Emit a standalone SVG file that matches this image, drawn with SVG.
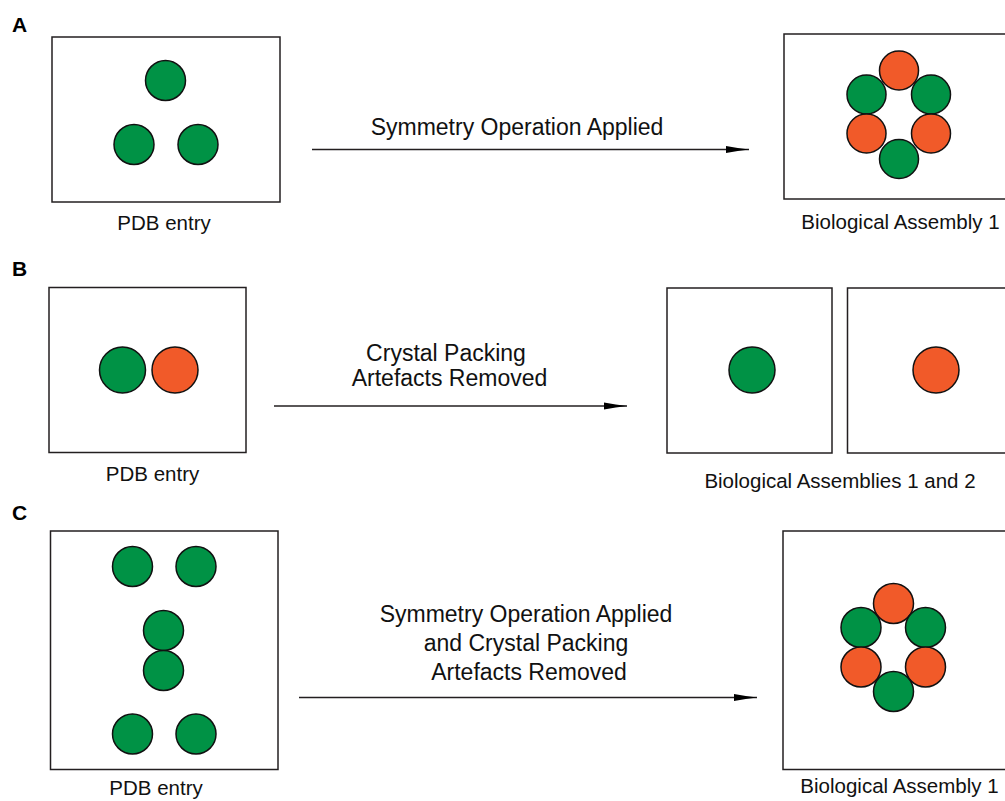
<svg xmlns="http://www.w3.org/2000/svg" width="1005" height="801" viewBox="0 0 1005 801">
<defs>
<style>
.box{fill:#fff;stroke:#231f20;stroke-width:1.5}
.g{fill:#009245;stroke:#111;stroke-width:1.5}
.o{fill:#f15a29;stroke:#111;stroke-width:1.5}
.lbl{font-family:"Liberation Sans",Arial,sans-serif;font-size:20.5px;fill:#111;text-anchor:middle}
.arr{font-family:"Liberation Sans",Arial,sans-serif;font-size:23px;fill:#111;text-anchor:middle}
.pan{font-family:"Liberation Sans",Arial,sans-serif;font-size:21px;font-weight:bold;fill:#000}
.line{stroke:#231f20;stroke-width:1.3;fill:none;marker-end:url(#ah)}
</style>
<marker id="ah" markerUnits="userSpaceOnUse" markerWidth="24" markerHeight="10" refX="23" refY="5" orient="auto">
<path d="M0,1.5 Q12,3.6 23,5 Q12,6.4 0,8.5 z" fill="#000"/>
</marker>
</defs>
<rect width="1005" height="801" fill="#fff"/>
<text class="pan" x="12" y="32">A</text>
<text class="pan" x="12" y="276">B</text>
<text class="pan" x="12" y="520">C</text>

<g id="a-pdb">
<rect class="box" x="52" y="37" width="228" height="165"/>
<circle class="g" cx="165.5" cy="80.5" r="20"/>
<circle class="g" cx="134" cy="144.5" r="20"/>
<circle class="g" cx="198" cy="144.5" r="20"/>
<text class="lbl" x="164" y="230">PDB entry</text>
</g>
<g id="a-bio">
<rect class="box" x="784" y="34" width="230" height="165"/>
<circle class="o" cx="899" cy="70.5" r="19.5"/>
<circle class="g" cx="866.5" cy="94.5" r="19.5"/>
<circle class="g" cx="931" cy="94.5" r="19.5"/>
<circle class="o" cx="866.5" cy="133.5" r="19.5"/>
<circle class="o" cx="931" cy="133.5" r="19.5"/>
<circle class="g" cx="899" cy="159" r="19.5"/>
<text class="lbl" x="900.5" y="229">Biological Assembly 1</text>
</g>

<g id="b-pdb">
<rect class="box" x="49" y="287.5" width="197" height="165"/>
<circle class="g" cx="122.5" cy="370" r="23"/>
<circle class="o" cx="175" cy="370" r="23"/>
<text class="lbl" x="152.5" y="481">PDB entry</text>
</g>
<g id="b-bio1">
<rect class="box" x="667" y="288" width="165" height="165"/>
<circle class="g" cx="752" cy="370" r="23"/>
</g>
<g id="b-bio2">
<rect class="box" x="847.5" y="288" width="170" height="165"/>
<circle class="o" cx="936" cy="370" r="23"/>
</g>
<text class="lbl" x="840" y="488">Biological Assemblies 1 and 2</text>

<g id="c-pdb">
<rect class="box" x="50.5" y="531" width="227.5" height="238.5"/>
<circle class="g" cx="132.5" cy="566.5" r="20"/>
<circle class="g" cx="196" cy="566.5" r="20"/>
<circle class="g" cx="163.5" cy="630.5" r="20"/>
<circle class="g" cx="163.5" cy="670.5" r="20"/>
<circle class="g" cx="132.5" cy="734" r="20"/>
<circle class="g" cx="196" cy="734" r="20"/>
<text class="lbl" x="156" y="795">PDB entry</text>
</g>
<g id="c-bio">
<rect class="box" x="783" y="531" width="230" height="238.5"/>
<circle class="o" cx="893.5" cy="603.5" r="20"/>
<circle class="g" cx="861" cy="627.5" r="20"/>
<circle class="g" cx="925.5" cy="627.5" r="20"/>
<circle class="o" cx="861" cy="667" r="20"/>
<circle class="o" cx="925.5" cy="667" r="20"/>
<circle class="g" cx="893.5" cy="691.5" r="20"/>
<text class="lbl" x="899.5" y="793">Biological Assembly 1</text>
</g>

<g id="connectors">
<line class="line" x1="312" y1="149.5" x2="749" y2="149.5"/>
<text class="arr" x="517" y="135">Symmetry Operation Applied</text>
<line class="line" x1="274" y1="406" x2="627" y2="406"/>
<text class="arr" x="446" y="361">Crystal Packing</text>
<text class="arr" x="449.5" y="386">Artefacts Removed</text>
<line class="line" x1="299" y1="697.5" x2="757" y2="697.5"/>
<text class="arr" x="526" y="622">Symmetry Operation Applied</text>
<text class="arr" x="526" y="651">and Crystal Packing</text>
<text class="arr" x="529" y="680">Artefacts Removed</text>
</g>
</svg>
